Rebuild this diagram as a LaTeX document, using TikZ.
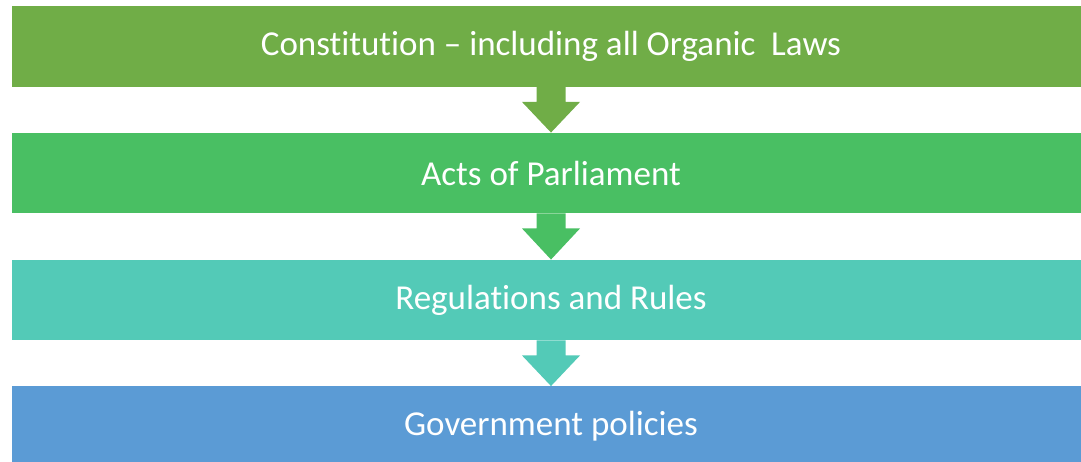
\documentclass[tikz,border=0pt]{standalone}
\usepackage{fontspec}
\setmainfont{Carlito}[Ligatures=NoCommon]
\usetikzlibrary{calc}
\definecolor{cA}{HTML}{70AD47}
\definecolor{cB}{HTML}{49BF63}
\definecolor{cC}{HTML}{53CAB7}
\definecolor{cD}{HTML}{5B9BD5}
\begin{document}
\begin{tikzpicture}[x=1pt,y=-1pt,
  box/.style={rectangle, draw=none, minimum width=1078pt, minimum height=80.5pt, inner sep=0pt,
    text=white, font=\fontsize{35}{42}\selectfont}]
\useasboundingbox (0,0) rectangle (1081,462);
\node[box, fill=cA] (b1) at (551,46.5) {Constitution – including all Organic\ \ Laws};
\node[box, fill=cB] (b2) at (551,173) {Acts of Parliament};
\node[box, fill=cC] (b3) at (551,300) {Regulations and Rules};
\node[box, fill=cD] (b4) at (551,426.5) {Government policies};
\foreach \u/\l/\c in {b1/b2/cA, b2/b3/cB, b3/b4/cC}{
  \fill[\c] ($(\u.south)+(-14.5,0)$) -- ($(\u.south)+(-14.5,15)$) -- ($(\u.south)+(-29,15)$)
    -- (\l.north) -- ($(\u.south)+(29,15)$) -- ($(\u.south)+(14.5,15)$) -- ($(\u.south)+(14.5,0)$) -- cycle;
}
\end{tikzpicture}
\end{document}
